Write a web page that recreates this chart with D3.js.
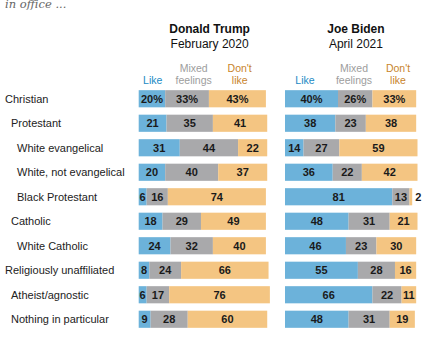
<!DOCTYPE html>
<html>
<head>
<meta charset="utf-8">
<script src="https://cdn.jsdelivr.net/npm/d3@7"></script>
<style>
  body { margin: 0; background: #fff; }
  svg { display: block; }
  .row-label { font-family: "Liberation Sans", Arial, sans-serif; font-size: 11px; fill: #222; }
  .val { font-family: "Liberation Sans", Arial, sans-serif; font-size: 11px; font-weight: bold; fill: #1a1a1a; }
  .head { font-family: "Liberation Sans", Arial, sans-serif; font-size: 12px; fill: #111; }
  .leg { font-family: "Liberation Sans", Arial, sans-serif; font-size: 10.5px; }
  .sub { font-family: "DejaVu Serif", Georgia, serif; font-style: italic; font-size: 11.5px; fill: #666; }
</style>
</head>
<body>
<div id="chart"></div>
<script>
// row labels and how far each is indented
var groups = ["Christian", "Protestant", "White evangelical", "White, not evangelical",
  "Black Protestant", "Catholic", "White Catholic", "Religiously unaffiliated",
  "Atheist/agnostic", "Nothing in particular"];
var indent = [0, 1, 2, 2, 2, 1, 2, 0, 1, 1];

// Donald Trump, February 2020
var trumpLike    = [20, 21, 31, 20, 6, 18, 24, 8, 6, 9];
var trumpMixed   = [33, 35, 44, 40, 16, 29, 32, 24, 17, 28];
var trumpDislike = [43, 41, 22, 37, 74, 49, 40, 66, 76, 60];

// Joe Biden, April 2021
var bidenLike    = [40, 38, 14, 36, 81, 48, 46, 55, 66, 48];
var bidenMixed   = [26, 23, 27, 22, 13, 31, 23, 28, 22, 31];
var bidenDislike = [33, 38, 59, 42, 2, 21, 30, 16, 11, 19];

var keys = ["like", "mixed", "dislike"];
var fills = { like: "#6cb2da", mixed: "#a9a9ab", dislike: "#f4c582" };
var legColors = { like: "#1b8ac4", mixed: "#9d9d9d", dislike: "#c8842c" };

var width = 431, height = 337;

var svg = d3.select("#chart").append("svg")
    .attr("width", width)
    .attr("height", height);

svg.append("text")
    .attr("class", "sub")
    .attr("x", 5)
    .attr("y", 8)
    .text("in office ...");

var y = d3.scaleBand()
    .domain(groups)
    .range([86.5, 331.5])
    .paddingInner(0.3)
    .paddingOuter(0.15);

// row labels
svg.selectAll(".row-label")
    .data(groups)
    .enter().append("text")
    .attr("class", "row-label")
    .attr("x", function(d, i) { return 5 + indent[i] * 6; })
    .attr("y", function(d) { return y(d) + y.bandwidth() / 2; })
    .attr("dy", "0.35em")
    .text(function(d) { return d; });

var panels = [
  { name: "Donald Trump", date: "February 2020", x0: 138.7,
    like: trumpLike, mixed: trumpMixed, dislike: trumpDislike,
    legX: [14, 55, 101] },
  { name: "Joe Biden", date: "April 2021", x0: 285,
    like: bidenLike, mixed: bidenMixed, dislike: bidenDislike,
    legX: [20, 69, 113] }
];

panels.forEach(function(p) {
  var x = d3.scaleLinear().domain([0, 100]).range([p.x0, p.x0 + 132.5]);
  var mid = x(52);

  svg.append("text").attr("class", "head")
      .attr("x", mid + 2).attr("y", 33)
      .attr("text-anchor", "middle")
      .style("font-weight", "bold")
      .text(p.name);
  svg.append("text").attr("class", "head")
      .attr("x", mid + 2).attr("y", 48)
      .attr("text-anchor", "middle")
      .text(p.date);

  // legend
  var legLines = [["Like"], ["Mixed", "feelings"], ["Don't", "like"]];
  legLines.forEach(function(lines, k) {
    var t = svg.append("text").attr("class", "leg")
        .attr("x", p.x0 + p.legX[k])
        .attr("y", 84 - (lines.length - 1) * 12)
        .attr("text-anchor", "middle")
        .style("fill", legColors[keys[k]]);
    lines.forEach(function(l, j) {
      t.append("tspan").attr("x", p.x0 + p.legX[k]).attr("dy", j ? 12 : 0).text(l);
    });
  });

  var rows = groups.map(function(g, i) {
    return { group: g, like: p.like[i], mixed: p.mixed[i], dislike: p.dislike[i] };
  });
  var series = d3.stack().keys(keys)(rows);

  var layer = svg.append("g").selectAll("g")
      .data(series)
      .enter().append("g")
      .attr("fill", function(s) { return fills[s.key]; });

  layer.selectAll("rect")
      .data(function(s) { return s; })
      .enter().append("rect")
      .attr("x", function(d) { return x(d[0]); })
      .attr("y", function(d) { return y(d.data.group); })
      .attr("width", function(d) { return x(d[1]) - x(d[0]); })
      .attr("height", y.bandwidth());

  layer.selectAll(".val")
      .data(function(s) { return s; })
      .enter().append("text")
      .attr("class", "val")
      .attr("x", function(d) {
        var v = d[1] - d[0];
        if (v < 4) return x(d[1]) + 6;
        return (x(d[0]) + x(d[1])) / 2;
      })
      .attr("y", function(d) { return y(d.data.group) + y.bandwidth() / 2; })
      .attr("dy", "0.36em")
      .attr("text-anchor", "middle")
      .text(function(d) {
        var v = d[1] - d[0];
        return d.data.group === "Christian" ? v + "%" : v;
      });
});
</script>
</body>
</html>
